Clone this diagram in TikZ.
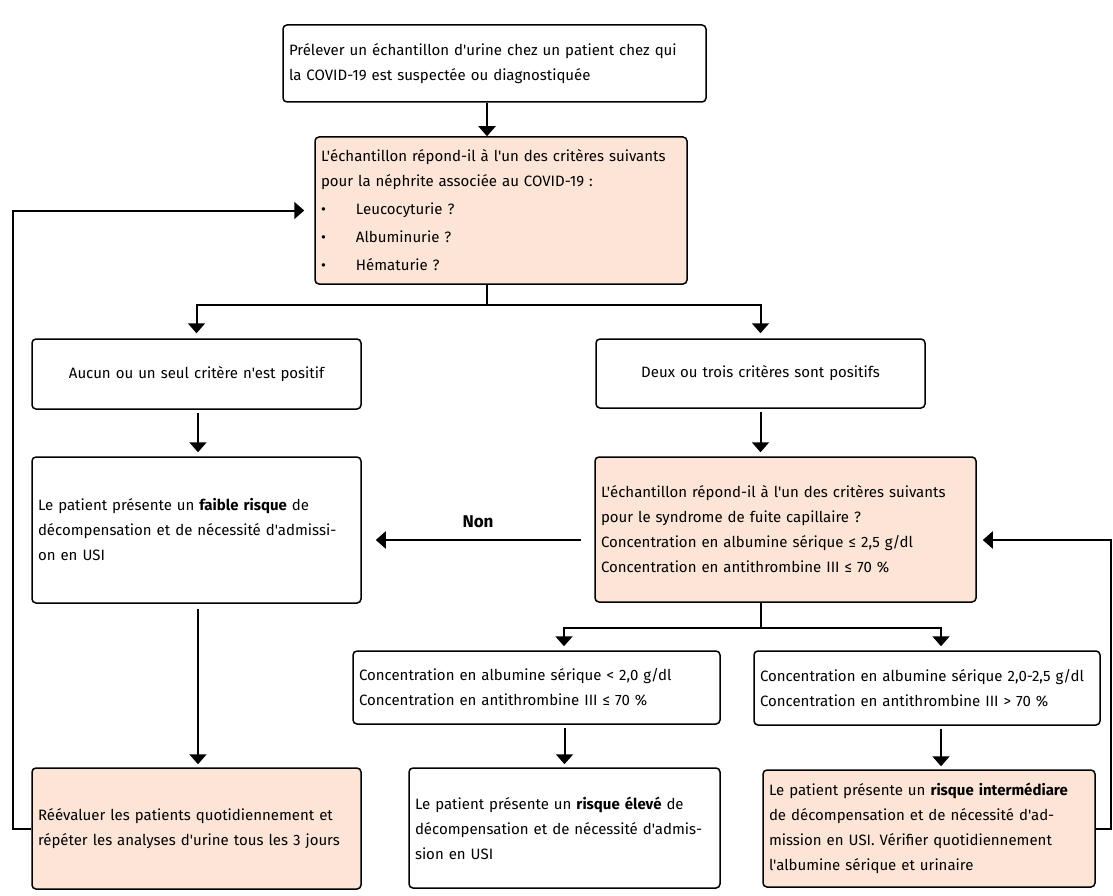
\documentclass[tikz,border=0pt]{standalone}
\usepackage{fontspec}
\setmainfont{Fira Sans}[Ligatures=TeXOff]
\usetikzlibrary{arrows.meta,calc}
\definecolor{pinkfill}{HTML}{FCE4D6}
\begin{document}
\begin{tikzpicture}[x=1pt,y=-1pt,
  box/.style={draw, line width=1.5pt, rounded corners=4pt, align=left, inner xsep=6pt, inner ysep=0pt,
    font=\fontsize{15}{25}\selectfont, anchor=center},
  pinkbox/.style={box, fill=pinkfill},
  conn/.style={line width=2pt},
  arr/.style={conn, -{Triangle[width=17pt,length=10pt]}},
  lbl/.style={font=\fontsize{17}{20}\selectfont\bfseries},
]
\useasboundingbox (0,0) rectangle (1113,896);

% boxes
\node[box, minimum width=423pt, minimum height=77pt, text width=411pt] (b1) at (494.5,63.5)
  {Prélever un échantillon d'urine chez un patient chez qui\\la COVID-19 est suspectée ou diagnostiquée};
\node[pinkbox, minimum width=372pt, minimum height=147pt, text width=360pt] (b2) at (501,210.5)
  {L'échantillon répond-il à l'un des critères suivants\\pour la néphrite associée au COVID-19 :\\[3pt]
   \makebox[35pt][l]{\textbullet}Leucocyturie ?\\[3pt]
   \makebox[35pt][l]{\textbullet}Albuminurie ?\\[3pt]
   \makebox[35pt][l]{\textbullet}Hématurie ?};
\node[box, align=center, minimum width=329pt, minimum height=70pt, text width=317pt] (b3) at (196.5,374)
  {Aucun ou un seul critère n'est positif};
\node[box, align=center, minimum width=329pt, minimum height=69pt, text width=317pt] (b4) at (760.5,373.5)
  {Deux ou trois critères sont positifs};
\node[box, minimum width=329pt, minimum height=146pt, text width=317pt] (b5) at (196.5,530)
  {Le patient présente un \textbf{faible risque} de\\décompensation et de nécessité d'admissi-\\on en USI};
\node[pinkbox, minimum width=381pt, minimum height=145pt, text width=369pt] (b6) at (785.5,529.5)
  {L'échantillon répond-il à l'un des critères suivants\\pour le syndrome de fuite capillaire ?\\Concentration en albumine sérique ≤ 2,5 g/dl\\Concentration en antithrombine III ≤ 70 \%};
\node[box, minimum width=367pt, minimum height=73pt, text width=355pt] (b7) at (536.5,687.5)
  {Concentration en albumine sérique < 2,0 g/dl\\Concentration en antithrombine III ≤ 70 \%};
\node[box, minimum width=346pt, minimum height=74pt, text width=334pt] (b8) at (927,688)
  {Concentration en albumine sérique 2,0-2,5 g/dl\\Concentration en antithrombine III > 70 \%};
\node[pinkbox, minimum width=329pt, minimum height=121pt, text width=317pt] (b9) at (196.5,828.5)
  {Réévaluer les patients quotidiennement et\\répéter les analyses d'urine tous les 3 jours};
\node[box, minimum width=311pt, minimum height=120pt, text width=299pt] (b10) at (564.5,828)
  {Le patient présente un \textbf{risque élevé} de\\décompensation et de nécessité d'admis-\\sion en USI};
\node[pinkbox, minimum width=332pt, minimum height=117pt, text width=320pt] (b11) at (929,828.5)
  {Le patient présente un \textbf{risque intermédiare}\\de décompensation et de nécessité d'ad-\\mission en USI. Vérifier quotidiennement\\l'albumine sérique et urinaire};

% helper coordinates
\coordinate (x487) at (487,0);
\coordinate (s1) at (487,305);
\coordinate (s2) at (761,628);
\coordinate (s2l) at (564,628);
\coordinate (s2r) at (941,628);
\coordinate (x198) at (198,0);
\coordinate (x941) at (941,0);
\coordinate (y540) at (0,540);
\coordinate (lx) at (13,0);
\coordinate (rx) at (1111,0);

% connectors
\draw[arr] (b1.south -| x487) -- (b2.north -| x487);
\draw[conn] (b2.south -| s1) -- (s1);
\draw[arr, shorten >=5pt] (s1) -| (b3.north);
\draw[arr, shorten >=5pt] (s1) -| (b4.north);
\draw[arr, shorten <=3pt, shorten >=4pt] (b3.south -| x198) -- (b5.north -| x198);
\draw[arr, shorten <=3pt, shorten >=4pt] (b4.south) -- (b4.south |- b6.north);
\draw[arr, shorten <=13pt, shorten >=14pt] (b6.west |- y540) -- node[lbl, above=8pt] {Non} (b5.east |- y540);
\draw[arr, shorten <=5pt, shorten >=3pt] (b5.south -| x198) -- (b9.north -| x198);
\draw[conn] (b6.south -| s2) -- (s2);
\draw[arr, shorten >=4pt] (s2) -- (s2l) -- (s2l |- b7.north);
\draw[arr, shorten >=4pt] (s2) -- (s2r) -- (s2r |- b8.north);
\draw[arr, shorten <=3pt, shorten >=3pt] (b7.south -| b10.north) -- (b10.north);
\draw[arr, shorten <=3pt, shorten >=3pt] (b8.south -| x941) -- (b11.north -| x941);
\draw[arr, shorten >=10pt] (b9.west) -- (b9.west -| lx) |- (b2.west);
\draw[arr, shorten >=6pt] (b11.east) -- (b11.east -| rx) |- (b6.east |- y540);
\end{tikzpicture}
\end{document}
